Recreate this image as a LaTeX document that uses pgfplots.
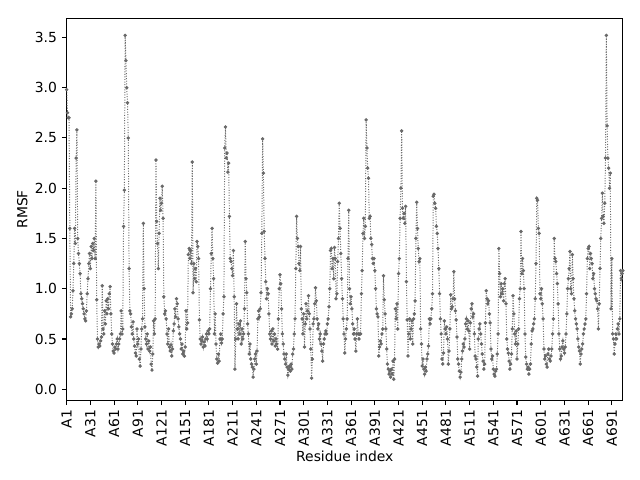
\documentclass[border=0pt]{standalone}
\usepackage{fontspec}
\setmainfont{DejaVu Sans}
\usepackage{pgfplots}
\usepackage{pgfplotstable}
\pgfplotsset{compat=1.18}
\definecolor{dgray}{RGB}{105,105,105}
\pgfplotstableread[row sep=\\]{
y\\
2.98\\ 2.75\\ 2.70\\ 2.70\\ 1.60\\ 0.72\\ 0.75\\ 0.80\\ 0.98\\ 1.25\\
1.60\\ 1.45\\ 2.30\\ 2.58\\ 1.50\\ 1.35\\ 1.25\\ 1.15\\ 0.95\\ 0.90\\
0.85\\ 0.80\\ 0.75\\ 0.70\\ 0.68\\ 0.78\\ 0.95\\ 1.10\\ 1.25\\ 1.35\\
1.20\\ 1.42\\ 1.30\\ 1.45\\ 1.38\\ 1.50\\ 1.30\\ 2.07\\ 0.89\\ 0.50\\
0.42\\ 0.45\\ 0.43\\ 0.48\\ 0.52\\ 1.03\\ 0.60\\ 0.55\\ 0.78\\ 0.65\\
0.88\\ 0.75\\ 0.90\\ 0.80\\ 0.95\\ 1.02\\ 0.75\\ 0.55\\ 0.45\\ 0.38\\
0.36\\ 0.42\\ 0.40\\ 0.45\\ 0.50\\ 0.40\\ 0.45\\ 0.50\\ 0.55\\ 0.78\\
0.55\\ 0.60\\ 1.62\\ 1.98\\ 3.52\\ 3.27\\ 3.00\\ 2.85\\ 2.50\\ 1.20\\
0.78\\ 0.75\\ 0.62\\ 0.55\\ 0.67\\ 0.50\\ 0.43\\ 0.36\\ 0.33\\ 0.60\\
0.45\\ 0.50\\ 0.30\\ 0.23\\ 0.40\\ 0.60\\ 0.70\\ 1.65\\ 1.00\\ 0.62\\
0.50\\ 0.45\\ 0.55\\ 0.40\\ 0.48\\ 0.38\\ 0.42\\ 0.25\\ 0.19\\ 0.35\\
0.68\\ 0.55\\ 0.70\\ 2.28\\ 1.67\\ 1.45\\ 1.20\\ 1.55\\ 1.90\\ 1.78\\
1.85\\ 2.02\\ 1.70\\ 0.92\\ 0.75\\ 0.78\\ 0.70\\ 0.55\\ 0.45\\ 0.60\\
0.42\\ 0.38\\ 0.44\\ 0.33\\ 0.40\\ 0.58\\ 0.65\\ 0.80\\ 0.72\\ 0.90\\
0.85\\ 0.70\\ 0.62\\ 0.55\\ 0.50\\ 0.40\\ 0.45\\ 0.35\\ 0.38\\ 0.33\\
0.42\\ 0.78\\ 0.60\\ 0.66\\ 1.34\\ 1.40\\ 1.30\\ 1.38\\ 1.25\\ 2.26\\
0.96\\ 1.25\\ 1.10\\ 1.20\\ 1.07\\ 1.47\\ 1.42\\ 1.30\\ 0.69\\ 0.50\\
0.45\\ 0.48\\ 0.52\\ 0.42\\ 0.47\\ 0.43\\ 0.50\\ 0.55\\ 0.50\\ 0.58\\
0.55\\ 0.60\\ 1.00\\ 1.35\\ 1.60\\ 1.30\\ 1.10\\ 0.55\\ 0.75\\ 0.45\\
0.30\\ 0.26\\ 0.35\\ 0.28\\ 0.50\\ 0.55\\ 0.46\\ 0.50\\ 0.75\\ 0.92\\
2.40\\ 2.61\\ 2.30\\ 2.35\\ 2.16\\ 2.25\\ 1.72\\ 1.30\\ 1.27\\ 1.20\\
1.13\\ 1.38\\ 0.92\\ 0.20\\ 0.50\\ 0.85\\ 0.60\\ 0.50\\ 0.65\\ 0.55\\
0.68\\ 0.45\\ 0.60\\ 0.50\\ 0.55\\ 0.80\\ 1.47\\ 1.10\\ 0.96\\ 0.65\\
0.55\\ 0.35\\ 0.45\\ 0.30\\ 0.25\\ 0.22\\ 0.12\\ 0.20\\ 0.30\\ 0.35\\
0.25\\ 0.38\\ 0.70\\ 0.78\\ 0.72\\ 0.80\\ 0.96\\ 1.55\\ 2.49\\ 2.15\\
1.57\\ 1.30\\ 1.07\\ 0.90\\ 1.00\\ 0.95\\ 0.75\\ 0.55\\ 0.50\\ 0.58\\
0.45\\ 0.60\\ 0.48\\ 0.55\\ 0.43\\ 0.50\\ 0.45\\ 0.40\\ 0.70\\ 1.00\\
1.14\\ 1.05\\ 0.80\\ 0.55\\ 0.45\\ 0.35\\ 0.30\\ 0.25\\ 0.35\\ 0.22\\
0.14\\ 0.20\\ 0.23\\ 0.18\\ 0.25\\ 0.20\\ 0.35\\ 0.40\\ 0.55\\ 0.70\\
1.20\\ 1.72\\ 1.50\\ 1.42\\ 1.25\\ 1.18\\ 1.42\\ 0.80\\ 0.70\\ 0.55\\
0.75\\ 0.42\\ 0.65\\ 0.85\\ 0.70\\ 0.78\\ 0.93\\ 0.75\\ 0.60\\ 0.40\\
0.11\\ 0.30\\ 0.65\\ 0.70\\ 0.85\\ 1.01\\ 0.88\\ 0.70\\ 0.60\\ 0.65\\
0.50\\ 0.55\\ 0.45\\ 0.38\\ 0.28\\ 0.45\\ 0.50\\ 0.55\\ 0.58\\ 0.55\\
0.65\\ 0.70\\ 0.82\\ 1.00\\ 1.38\\ 1.40\\ 1.20\\ 1.30\\ 1.10\\ 1.41\\
1.30\\ 0.90\\ 0.95\\ 1.27\\ 1.50\\ 1.85\\ 1.60\\ 1.35\\ 1.10\\ 0.90\\
0.70\\ 0.55\\ 0.36\\ 0.50\\ 0.60\\ 0.70\\ 1.30\\ 1.78\\ 1.00\\ 0.85\\
0.92\\ 0.80\\ 0.65\\ 0.55\\ 0.60\\ 0.50\\ 0.38\\ 0.55\\ 0.70\\ 0.55\\
0.50\\ 0.55\\ 0.55\\ 0.95\\ 1.18\\ 1.55\\ 1.70\\ 1.50\\ 1.62\\ 2.68\\
2.40\\ 2.20\\ 2.10\\ 1.70\\ 1.72\\ 1.50\\ 1.44\\ 1.30\\ 1.25\\ 1.30\\
1.18\\ 1.00\\ 0.80\\ 0.75\\ 0.72\\ 0.33\\ 0.42\\ 0.48\\ 0.45\\ 0.55\\
0.60\\ 1.13\\ 0.89\\ 0.75\\ 0.60\\ 0.40\\ 0.25\\ 0.20\\ 0.15\\ 0.18\\
0.12\\ 0.20\\ 0.15\\ 0.28\\ 0.10\\ 0.30\\ 0.80\\ 0.70\\ 0.85\\ 0.60\\
1.15\\ 1.30\\ 1.70\\ 2.00\\ 2.57\\ 1.80\\ 1.70\\ 1.75\\ 1.65\\ 1.82\\
1.07\\ 0.69\\ 0.33\\ 0.55\\ 0.70\\ 0.50\\ 0.60\\ 0.68\\ 0.45\\ 0.70\\
0.75\\ 0.88\\ 1.50\\ 1.86\\ 1.60\\ 1.40\\ 1.27\\ 1.30\\ 0.60\\ 0.45\\
0.23\\ 0.30\\ 0.20\\ 0.15\\ 0.22\\ 0.18\\ 0.30\\ 0.35\\ 0.43\\ 0.70\\
0.65\\ 0.70\\ 0.80\\ 0.95\\ 1.92\\ 1.94\\ 1.85\\ 1.80\\ 1.62\\ 1.55\\
1.40\\ 1.20\\ 0.95\\ 0.70\\ 0.55\\ 0.30\\ 0.25\\ 0.36\\ 0.68\\ 0.60\\
0.55\\ 0.62\\ 0.50\\ 0.25\\ 0.38\\ 0.60\\ 0.94\\ 0.80\\ 0.82\\ 0.90\\
1.17\\ 0.90\\ 0.78\\ 0.69\\ 0.52\\ 0.30\\ 0.25\\ 0.18\\ 0.12\\ 0.17\\
0.30\\ 0.38\\ 0.45\\ 0.42\\ 0.50\\ 0.65\\ 0.70\\ 0.60\\ 0.68\\ 0.58\\
0.40\\ 0.66\\ 0.80\\ 0.85\\ 0.72\\ 0.75\\ 0.55\\ 0.33\\ 0.30\\ 0.22\\
0.13\\ 0.50\\ 0.60\\ 0.65\\ 0.55\\ 0.45\\ 0.35\\ 0.28\\ 0.20\\ 0.25\\
0.66\\ 0.98\\ 0.90\\ 0.85\\ 0.88\\ 0.75\\ 0.66\\ 0.40\\ 0.30\\ 0.33\\
0.20\\ 0.15\\ 0.13\\ 0.18\\ 0.20\\ 0.35\\ 0.55\\ 1.40\\ 1.15\\ 0.92\\
1.05\\ 0.95\\ 1.00\\ 0.88\\ 1.05\\ 1.10\\ 0.85\\ 0.50\\ 0.40\\ 0.36\\
0.28\\ 0.20\\ 0.25\\ 0.35\\ 0.60\\ 0.93\\ 0.75\\ 0.55\\ 0.45\\ 0.58\\
0.30\\ 0.45\\ 0.60\\ 0.90\\ 1.00\\ 1.57\\ 1.15\\ 1.30\\ 1.18\\ 1.00\\
0.55\\ 0.32\\ 0.25\\ 0.20\\ 0.22\\ 0.15\\ 0.20\\ 0.25\\ 0.45\\ 0.58\\
0.60\\ 0.65\\ 0.70\\ 0.90\\ 1.25\\ 1.90\\ 1.88\\ 1.60\\ 1.55\\ 0.95\\
0.90\\ 1.00\\ 0.85\\ 0.70\\ 0.40\\ 0.30\\ 0.33\\ 0.25\\ 0.22\\ 0.35\\
0.40\\ 0.30\\ 0.28\\ 0.33\\ 0.40\\ 0.55\\ 0.70\\ 1.50\\ 1.30\\ 1.27\\
1.15\\ 1.05\\ 0.85\\ 0.55\\ 0.40\\ 0.30\\ 0.33\\ 0.42\\ 0.48\\ 0.40\\
0.36\\ 0.42\\ 0.55\\ 0.75\\ 1.00\\ 1.10\\ 1.20\\ 1.37\\ 1.00\\ 0.95\\
1.34\\ 1.10\\ 0.90\\ 0.78\\ 0.70\\ 0.65\\ 0.60\\ 0.50\\ 0.42\\ 0.38\\
0.25\\ 0.35\\ 0.40\\ 0.45\\ 0.55\\ 0.60\\ 0.65\\ 0.70\\ 0.95\\ 1.30\\
1.40\\ 1.42\\ 1.20\\ 1.35\\ 1.30\\ 1.25\\ 1.10\\ 1.15\\ 1.00\\ 0.95\\
0.90\\ 0.88\\ 0.80\\ 0.60\\ 0.85\\ 1.20\\ 1.50\\ 1.70\\ 1.95\\ 1.72\\
1.65\\ 1.85\\ 2.30\\ 3.52\\ 2.62\\ 2.30\\ 2.20\\ 2.00\\ 2.15\\ 0.80\\
1.30\\ 0.55\\ 0.50\\ 0.35\\ 0.45\\ 0.55\\ 0.50\\ 0.60\\ 0.65\\ 0.55\\
0.70\\ 1.18\\ 1.10\\ 1.15\\ 1.18\\
}\rmsf
\begin{document}
\begin{tikzpicture}
\path[use as bounding box] (0,0) rectangle (460.8pt,345.6pt);
\begin{axis}[
  at={(48.0pt,57.4pt)}, anchor=south west,
  scale only axis, width=400.5pt, height=275pt,
  xmin=0, xmax=704, ymin=-0.11, ymax=3.69,
  axis line style={line width=0.8pt},
  tick style={line width=0.8pt, black},
  tick align=outside, tick pos=left,
  major tick length=3.5pt,
  xtick={0,30,...,690},
  xticklabels={A1,A31,A61,A91,A121,A151,A181,A211,A241,A271,A301,A331,A361,A391,A421,A451,A481,A511,A541,A571,A601,A631,A661,A691},
  x tick label style={rotate=90, anchor=east, font=\fontsize{10}{12}\selectfont},
  ytick={0,0.5,...,3.5},
  y tick label style={font=\fontsize{10}{12}\selectfont},
  /pgf/number format/assume math mode=true,
  yticklabel style={/pgf/number format/.cd, fixed, fixed zerofill, precision=1},
  xlabel={Residue index}, ylabel={RMSF},
  xlabel style={at={(axis description cs:0.5,-0.148)}, anchor=center, font=\fontsize{10}{12}\selectfont},
  ylabel style={at={(axis description cs:-0.0795,0.5)}, anchor=center, rotate=0, font=\fontsize{10}{12}\selectfont},
  clip=true,
]
\addplot[color=dgray, line width=0.7pt, dash pattern=on 0.7pt off 1.15pt,
  mark=*, mark size=0.85pt, mark options={solid, draw=none, fill=dgray}]
  table[x expr=\coordindex, y=y] {\rmsf};
\end{axis}
\end{tikzpicture}
\end{document}
